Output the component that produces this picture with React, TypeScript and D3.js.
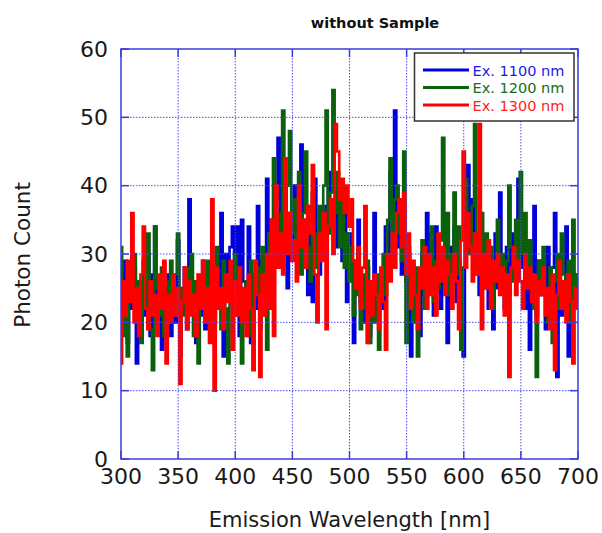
import React from "react";
import * as d3 from "d3";

const TITLE = "without Sample";
const X_LABEL = "Emission Wavelength [nm]";
const Y_LABEL = "Photon Count";
const X_TICKS = [300, 350, 400, 450, 500, 550, 600, 650, 700];
const Y_TICKS = [0, 10, 20, 30, 40, 50, 60];
const START_NM = 300;
const STEP_NM = 2;

const SERIES_NAMES = ["Ex. 1100 nm", "Ex. 1200 nm", "Ex. 1300 nm"];

// counts every 2 nm from 300 to 700 nm
const ex1100 = [
  27, 20, 29, 17, 24, 22, 28, 14, 25, 19, 26, 21, 30, 18, 27, 34, 20, 26, 16, 24,
  21, 27, 18, 25, 20, 32, 15, 24, 28, 19, 38, 22, 26, 17, 25, 21, 29, 19, 26, 23,
  28, 20, 30, 25, 36, 15, 30, 27, 31, 34, 22, 34, 18, 35, 26, 20, 34, 17, 27, 22,
  37, 19, 29, 24, 41, 26, 35, 30, 38, 47, 32, 38, 30, 25, 36, 30, 40, 33, 28, 46,
  35, 30, 24, 37, 23, 41, 32, 27, 35, 30, 37, 42, 34, 38, 31, 40, 35, 29, 39, 23,
  33, 27, 17, 29, 35, 23, 26, 20, 28, 18, 25, 36, 21, 24, 27, 22, 34, 30, 42, 36,
  51, 31, 38, 27, 33, 26, 30, 15, 28, 22, 27, 18, 30, 24, 36, 25, 33, 21, 34, 27,
  22, 30, 28, 17, 31, 26, 34, 23, 29, 20, 15, 36, 43, 30, 38, 27, 33, 24, 31, 25,
  30, 22, 29, 19, 33, 25, 39, 28, 22, 31, 24, 33, 27, 30, 41, 28, 34, 22, 31, 16,
  25, 37, 21, 29, 24, 27, 19, 31, 23, 28, 36, 12, 26, 21, 24, 34, 15, 25, 22, 27,
  24,
];

const ex1200 = [
  31, 18, 25, 15, 28, 24, 30, 20, 26, 17, 29, 22, 33, 19, 13, 34, 25, 21, 28, 18,
  26, 20, 29, 23, 27, 33, 19, 25, 21, 28, 22, 30, 18, 26, 14, 24, 27, 20, 29, 23,
  26, 21, 31, 24, 19, 29, 22, 14, 27, 25, 30, 21, 27, 14, 24, 26, 18, 29, 22, 25,
  28, 20, 31, 24, 16, 33, 27, 44, 30, 36, 29, 51, 34, 40, 48, 33, 38, 30, 42, 27,
  36, 45, 31, 26, 39, 33, 28, 37, 30, 40, 51, 33, 39, 54, 36, 42, 31, 38, 28, 33,
  26, 31, 21, 28, 24, 19, 27, 22, 29, 17, 24, 20, 27, 16, 25, 30, 24, 35, 44, 31,
  38, 40, 33, 29, 45, 17, 31, 24, 20, 28, 15, 26, 32, 22, 30, 27, 34, 23, 29, 25,
  32, 47, 28, 36, 24, 30, 39, 27, 34, 16, 28, 41, 35, 30, 37, 49, 32, 27, 36, 29,
  33, 26, 31, 22, 28, 35, 27, 30, 24, 29, 40, 31, 26, 35, 28, 42, 30, 36, 25, 32,
  27, 22, 12, 29, 24, 31, 25, 20, 28, 17, 26, 30, 22, 33, 27, 23, 29, 20, 35, 25,
  27,
];

const ex1300 = [
  14, 26, 21, 29, 23, 36, 20, 25, 18, 27, 34, 22, 19, 26, 21, 24, 18, 27, 22, 29,
  14, 24, 20, 27, 21, 25, 11, 23, 28, 19, 26, 21, 24, 18, 27, 22, 29, 20, 25, 17,
  38, 10, 28, 22, 25, 19, 27, 23, 29, 16, 26, 21, 28, 20, 25, 18, 27, 22, 13, 29,
  24, 12, 27, 21, 30, 22, 35, 18, 40, 28, 33, 27, 44, 30, 36, 29, 32, 26, 40, 31,
  35, 28, 37, 33, 43, 27, 20, 33, 29, 36, 19, 34, 38, 30, 49, 45, 38, 41, 36, 40,
  34, 38, 29, 25, 31, 22, 28, 37, 17, 26, 21, 27, 24, 19, 28, 23, 16, 30, 26, 33,
  28, 36, 38, 31, 39, 27, 33, 22, 29, 24, 19, 28, 25, 31, 22, 30, 24, 28, 21, 33,
  26, 31, 24, 29, 27, 22, 30, 26, 19, 32, 45, 28, 36, 31, 26, 33, 27, 49, 19, 30,
  25, 32, 22, 29, 26, 30, 24, 28, 21, 27, 12, 28, 31, 24, 29, 26, 22, 30, 25, 28,
  23, 27, 20, 26, 24, 28, 21, 25, 19, 27, 13, 24, 29, 22, 26, 20, 27, 23, 14, 25,
  22,
];

const SERIES = [ex1100, ex1200, ex1300];
const COLORS = ["#0000dd", "#0b610b", "#ff0000"];
const TEXT_COLORS = ["#1a1ae6", "#1a6a1a", "#ff2222"];
const AXIS_COLOR = "#3c3cdc";
const GRID_COLOR = "#4a4aee";

const W = 602;
const H = 533;
const M = { left: 121, top: 49, right: 578, bottom: 459 };

export default function App() {
  const x = d3.scaleLinear().domain([300, 700]).range([M.left, M.right]);
  const y = d3.scaleLinear().domain([0, 60]).range([M.bottom, M.top]);
  const line = d3
    .line<number>()
    .x((_, i) => x(START_NM + i * STEP_NM))
    .y((d) => y(d))
    .curve(d3.curveStep);
  const font = "'DejaVu Sans', Verdana, sans-serif";
  const tick = 8;
  const legendRows = [70, 87.5, 105];

  return (
    <svg
      width={W}
      height={H}
      style={{ position: "absolute", left: 0, top: 0, background: "#fff" }}
      fontFamily={font}
    >
      <rect x={0} y={0} width={W} height={H} fill="#fff" />
      <defs>
        <clipPath id="plotclip">
          <rect x={M.left} y={M.top} width={M.right - M.left} height={M.bottom - M.top} />
        </clipPath>
      </defs>
      <g clipPath="url(#plotclip)">
        {SERIES.map((s, k) => (
          <path
            key={k}
            d={line(s) || ""}
            fill="none"
            stroke={COLORS[k]}
            strokeWidth={2.6}
            strokeLinejoin="miter"
          />
        ))}
      </g>
      {/* grid */}
      <g stroke={GRID_COLOR} strokeWidth={1} strokeDasharray="1.5,1.5">
        {X_TICKS.slice(1, -1).map((t) => (
          <line key={"gx" + t} x1={x(t)} x2={x(t)} y1={M.top} y2={M.bottom} />
        ))}
        {Y_TICKS.slice(1, -1).map((t) => (
          <line key={"gy" + t} x1={M.left} x2={M.right} y1={y(t)} y2={y(t)} />
        ))}
      </g>
      {/* ticks */}
      <g stroke={AXIS_COLOR} strokeWidth={1.5}>
        {X_TICKS.map((t) => (
          <g key={"tx" + t}>
            <line x1={x(t)} x2={x(t)} y1={M.bottom} y2={M.bottom - tick} />
            <line x1={x(t)} x2={x(t)} y1={M.top} y2={M.top + tick} />
          </g>
        ))}
        {Y_TICKS.map((t) => (
          <g key={"ty" + t}>
            <line x1={M.left} x2={M.left + tick} y1={y(t)} y2={y(t)} />
            <line x1={M.right} x2={M.right - tick} y1={y(t)} y2={y(t)} />
          </g>
        ))}
      </g>
      <rect
        x={M.left}
        y={M.top}
        width={M.right - M.left}
        height={M.bottom - M.top}
        fill="none"
        stroke={AXIS_COLOR}
        strokeWidth={1.5}
      />
      {/* tick labels */}
      <g fontSize={22} fill="#1a1a1a">
        {X_TICKS.map((t) => (
          <text key={"lx" + t} x={x(t)} y={M.bottom + 24.5} textAnchor="middle">
            {t}
          </text>
        ))}
        {Y_TICKS.map((t) => (
          <text key={"ly" + t} x={108} y={y(t) + 7.5} textAnchor="end">
            {t}
          </text>
        ))}
      </g>
      <text x={375} y={27.5} textAnchor="middle" fontSize={14.5} fontWeight="bold" fill="#111">
        {TITLE}
      </text>
      <text x={349.5} y={527} textAnchor="middle" fontSize={21} fill="#1a1a1a">
        {X_LABEL}
      </text>
      <text
        transform={`translate(30, 255) rotate(-90)`}
        textAnchor="middle"
        fontSize={21.5}
        fill="#1a1a1a"
      >
        {Y_LABEL}
      </text>
      {/* legend */}
      <rect x={414.5} y={53} width={159.5} height={68} fill="#fff" stroke="#333" strokeWidth={1.5} />
      {SERIES_NAMES.map((n, k) => (
        <g key={n}>
          <line x1={423} x2={469} y1={legendRows[k]} y2={legendRows[k]} stroke={COLORS[k]} strokeWidth={3} />
          <text x={472.5} y={legendRows[k] + 5.5} fontSize={14.5} fill={TEXT_COLORS[k]}>
            {n}
          </text>
        </g>
      ))}
    </svg>
  );
}
